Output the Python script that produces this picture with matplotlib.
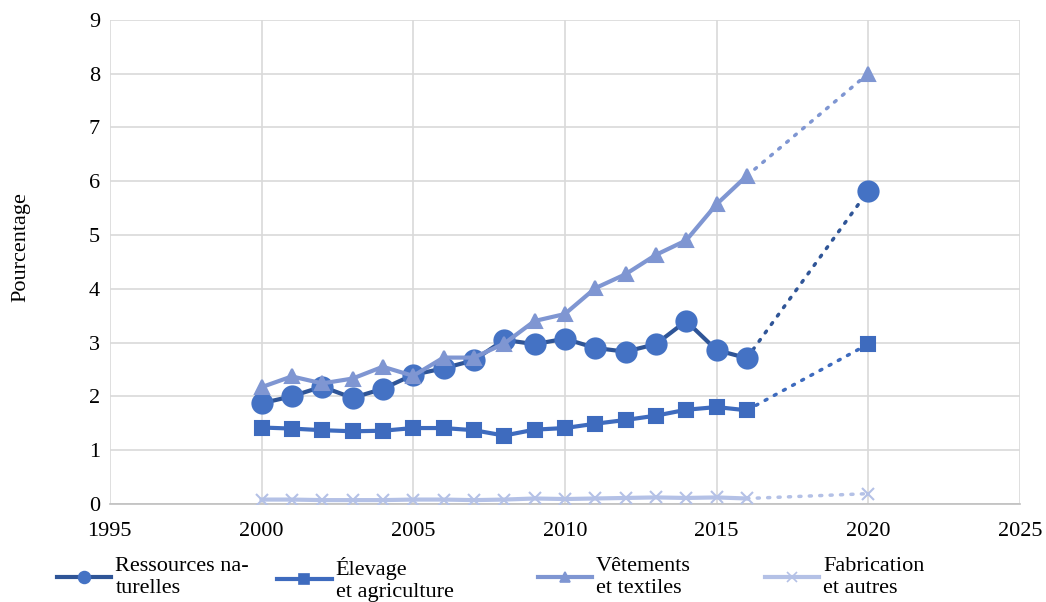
import numpy as np
import matplotlib.pyplot as plt
from matplotlib.lines import Line2D

plt.rcParams['font.family'] = ['Liberation Serif', 'DejaVu Serif']

years = [2000, 2001, 2002, 2003, 2004, 2005, 2006, 2007, 2008,
         2009, 2010, 2011, 2012, 2013, 2014, 2015, 2016]
year_proj = [2016, 2020]

ressources = [1.87, 2.00, 2.18, 1.97, 2.14, 2.40, 2.52, 2.67, 3.05,
              2.97, 3.07, 2.90, 2.83, 2.97, 3.40, 2.86, 2.71]
ressources_2020 = 5.82

elevage = [1.42, 1.40, 1.37, 1.35, 1.36, 1.41, 1.41, 1.37, 1.27,
           1.38, 1.41, 1.49, 1.56, 1.64, 1.75, 1.80, 1.74]
elevage_2020 = 2.97

vetements = [2.17, 2.37, 2.24, 2.33, 2.55, 2.38, 2.72, 2.72, 2.98,
             3.40, 3.53, 4.01, 4.27, 4.63, 4.90, 5.57, 6.10]
vetements_2020 = 8.00

fabrication = [0.08, 0.08, 0.07, 0.07, 0.07, 0.08, 0.08, 0.07, 0.08,
               0.10, 0.09, 0.10, 0.11, 0.12, 0.11, 0.12, 0.10]
fabrication_2020 = 0.19

labels = ['Ressources na-\nturelles', '\u00c9levage\net agriculture',
          'V\u00eatements\net textiles', 'Fabrication\net autres']

# values, 2020 value, marker, size on plot, size in legend, line colour, marker colour
series = [
    (ressources, ressources_2020, 'o', 14.5, 8.5, '#2F5597', '#4472C4'),
    (elevage, elevage_2020, 's', 10.5, 7.5, '#3E6BBE', '#3E6BBE'),
    (vetements, vetements_2020, '^', 10, 7, '#7F96D2', '#7F96D2'),
    (fabrication, fabrication_2020, 'x', 9, 7, '#B4C1E6', '#B4C1E6'),
]

fig = plt.figure(figsize=(10.46, 6.02), dpi=100)
ax = fig.add_axes([0.105, 0.163, 0.87, 0.804])

handles = []
for vals, v2020, marker, ms, lms, lc, mc in series:
    ax.plot(years, vals, color=lc, lw=3, marker=marker, ms=ms,
            markerfacecolor=mc, markeredgecolor=mc, mew=1.5, zorder=3)
    ax.plot(year_proj, [vals[-1], v2020], color=lc, lw=2.5, ls=(0, (0.6, 2.4)),
            dash_capstyle='round', zorder=2)
    ax.plot([2020], [v2020], color=lc, marker=marker, ms=ms,
            markerfacecolor=mc, markeredgecolor=mc, mew=1.5, ls='none', zorder=3)
    handles.append(Line2D([], [], color=lc, lw=3, marker=marker, ms=lms,
                          markerfacecolor=mc, markeredgecolor=mc, mew=1.2))

ax.set_xlim(1995, 2025)
ax.set_ylim(0, 9)
ax.set_xticks(range(1995, 2026, 5))
ax.set_yticks(range(0, 10))
ax.grid(True, color='#D9D9D9', lw=1.2)
ax.set_axisbelow(True)
for s in ['top', 'right', 'left']:
    ax.spines[s].set_visible(False)
ax.spines['bottom'].set_color('#BFBFBF')
ax.spines['bottom'].set_linewidth(1.2)
ax.tick_params(length=0, labelsize=16)
ax.tick_params(axis='x', pad=13)
ax.tick_params(axis='y', pad=7)
ax.set_ylabel('Pourcentage', fontsize=16)
ax.yaxis.set_label_coords(-0.087, 0.53)

# one legend per entry so spacing matches
anchors = [0.0545, 0.265, 0.514, 0.731]
for h, lab, x0 in zip(handles, labels, anchors):
    leg = fig.legend([h], [lab], loc='upper left', bbox_to_anchor=(x0, 0.074),
                     frameon=False, fontsize=16, handlelength=2.45,
                     handletextpad=0.18, borderaxespad=0, borderpad=0,
                     labelspacing=0)
    for t in leg.get_texts():
        t.set_linespacing(1.15)

fig.savefig('out.png', dpi=100)
